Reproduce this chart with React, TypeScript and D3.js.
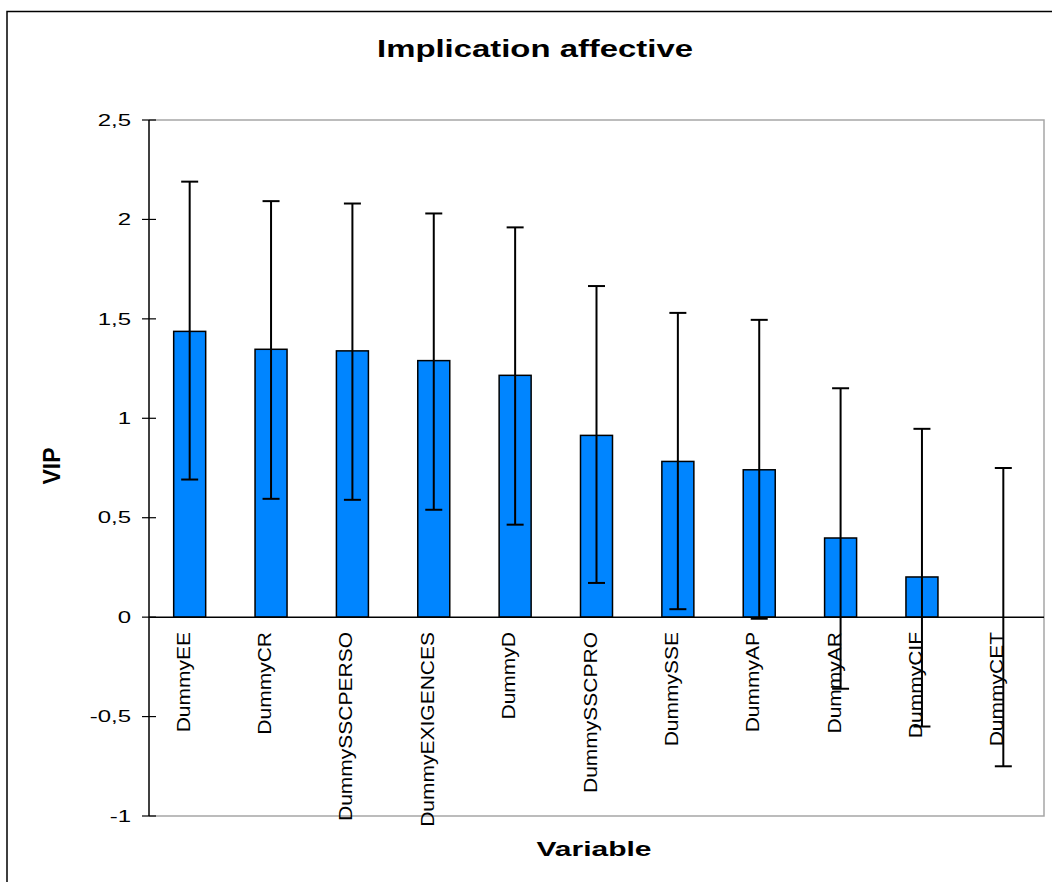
import React from "react";
import * as d3 from "d3";

const categories = [
  "DummyEE",
  "DummyCR",
  "DummySSCPERSO",
  "DummyEXIGENCES",
  "DummyD",
  "DummySSCPRO",
  "DummySSE",
  "DummyAP",
  "DummyAR",
  "DummyCIF",
  "DummyCET",
];
const vipValues = [1.437, 1.347, 1.339, 1.29, 1.216, 0.914, 0.783, 0.741, 0.398, 0.202, 0.0];
const errLow = [0.745, 0.752, 0.749, 0.75, 0.751, 0.742, 0.743, 0.749, 0.758, 0.752, 0.75];
const errHigh = [0.753, 0.745, 0.741, 0.74, 0.744, 0.751, 0.747, 0.754, 0.753, 0.745, 0.75];
const yTicks = [2.5, 2, 1.5, 1, 0.5, 0, -0.5, -1];
const yDomain = [-1, 2.5];

const FONT = "'Liberation Sans', Arial, Helvetica, sans-serif";

export default function App() {
  const W = 1052;
  const H = 882;
  const left = 149;
  const right = 1044;
  const top = 120;
  const bottom = 816;

  const x = d3.scaleBand<string>().domain(categories).range([left, right]).paddingInner(0).paddingOuter(0);
  const y = d3.scaleLinear().domain(yDomain).range([bottom, top]);
  const bw = x.bandwidth();
  const barW = 32;
  const capHalf = 8.5;
  const fmt = (v: number) => String(v).replace(".", ",");

  return (
    <svg
      width={W}
      height={H}
      style={{ position: "absolute", left: 0, top: 0, background: "#fff" }}
      fontFamily={FONT}
    >
      <rect x={0} y={0} width={W} height={H} fill="#fff" />
      {/* outer chart border */}
      <rect x={7} y={11.5} width={1200} height={1000} fill="none" stroke="#000" strokeWidth={1.5} />

      {/* title */}
      <text
        transform="translate(535,57) scale(1.43,1)"
        textAnchor="middle"
        fontSize={23}
        fontWeight="bold"
        fill="#000"
      >
        Implication affective
      </text>

      {/* plot frame (gray) */}
      <path
        d={`M${left},${top}H${right}V${bottom}H${left}`}
        fill="none"
        stroke="#a6a6a6"
        strokeWidth={1.5}
      />

      {/* bars */}
      {categories.map((c, i) => {
        const cx = (x(c) as number) + bw / 2;
        const v = vipValues[i];
        if (v === 0) return null;
        return (
          <rect
            key={c}
            x={cx - barW / 2}
            y={y(Math.max(0, v))}
            width={barW}
            height={Math.abs(y(v) - y(0))}
            fill="#0085ff"
            stroke="#000"
            strokeWidth={1.5}
          />
        );
      })}

      {/* zero line */}
      <line x1={left} x2={right} y1={y(0)} y2={y(0)} stroke="#000" strokeWidth={1.5} />

      {/* y axis */}
      <line x1={left} x2={left} y1={top} y2={bottom} stroke="#000" strokeWidth={1.5} />
      {yTicks.map((t) => (
        <g key={t}>
          <line x1={left - 7} x2={left + 7} y1={y(t)} y2={y(t)} stroke="#000" strokeWidth={1.2} />
          <text
            transform={`translate(131,${y(t) + 5.7}) scale(1.5,1)`}
            textAnchor="end"
            fontSize={16}
            fill="#000"
          >
            {fmt(t)}
          </text>
        </g>
      ))}

      {/* category labels */}
      {categories.map((c) => {
        const cx = (x(c) as number) + bw / 2;
        return (
          <text
            key={c}
            transform={`translate(${cx},${632}) rotate(-90) scale(1.13,1)`}
            textAnchor="end"
            fontSize={18.6}
            fill="#000"
          >
            {c}
          </text>
        );
      })}

      {/* error bars */}
      {categories.map((c, i) => {
        const cx = (x(c) as number) + bw / 2;
        const v = vipValues[i];
        const lo = y(v - errLow[i]);
        const hi = y(v + errHigh[i]);
        return (
          <g key={c} stroke="#000" strokeWidth={2}>
            <line x1={cx} x2={cx} y1={lo} y2={hi} />
            <line x1={cx - capHalf} x2={cx + capHalf} y1={hi} y2={hi} />
            <line x1={cx - capHalf} x2={cx + capHalf} y1={lo} y2={lo} />
          </g>
        );
      })}

      {/* axis titles */}
      <text transform="translate(60,466) rotate(-90)" textAnchor="middle" fontSize={23} fontWeight="bold" fill="#000">
        VIP
      </text>
      <text
        transform="translate(594,856) scale(1.5,1)"
        textAnchor="middle"
        fontSize={20}
        fontWeight="bold"
        fill="#000"
      >
        Variable
      </text>
    </svg>
  );
}
